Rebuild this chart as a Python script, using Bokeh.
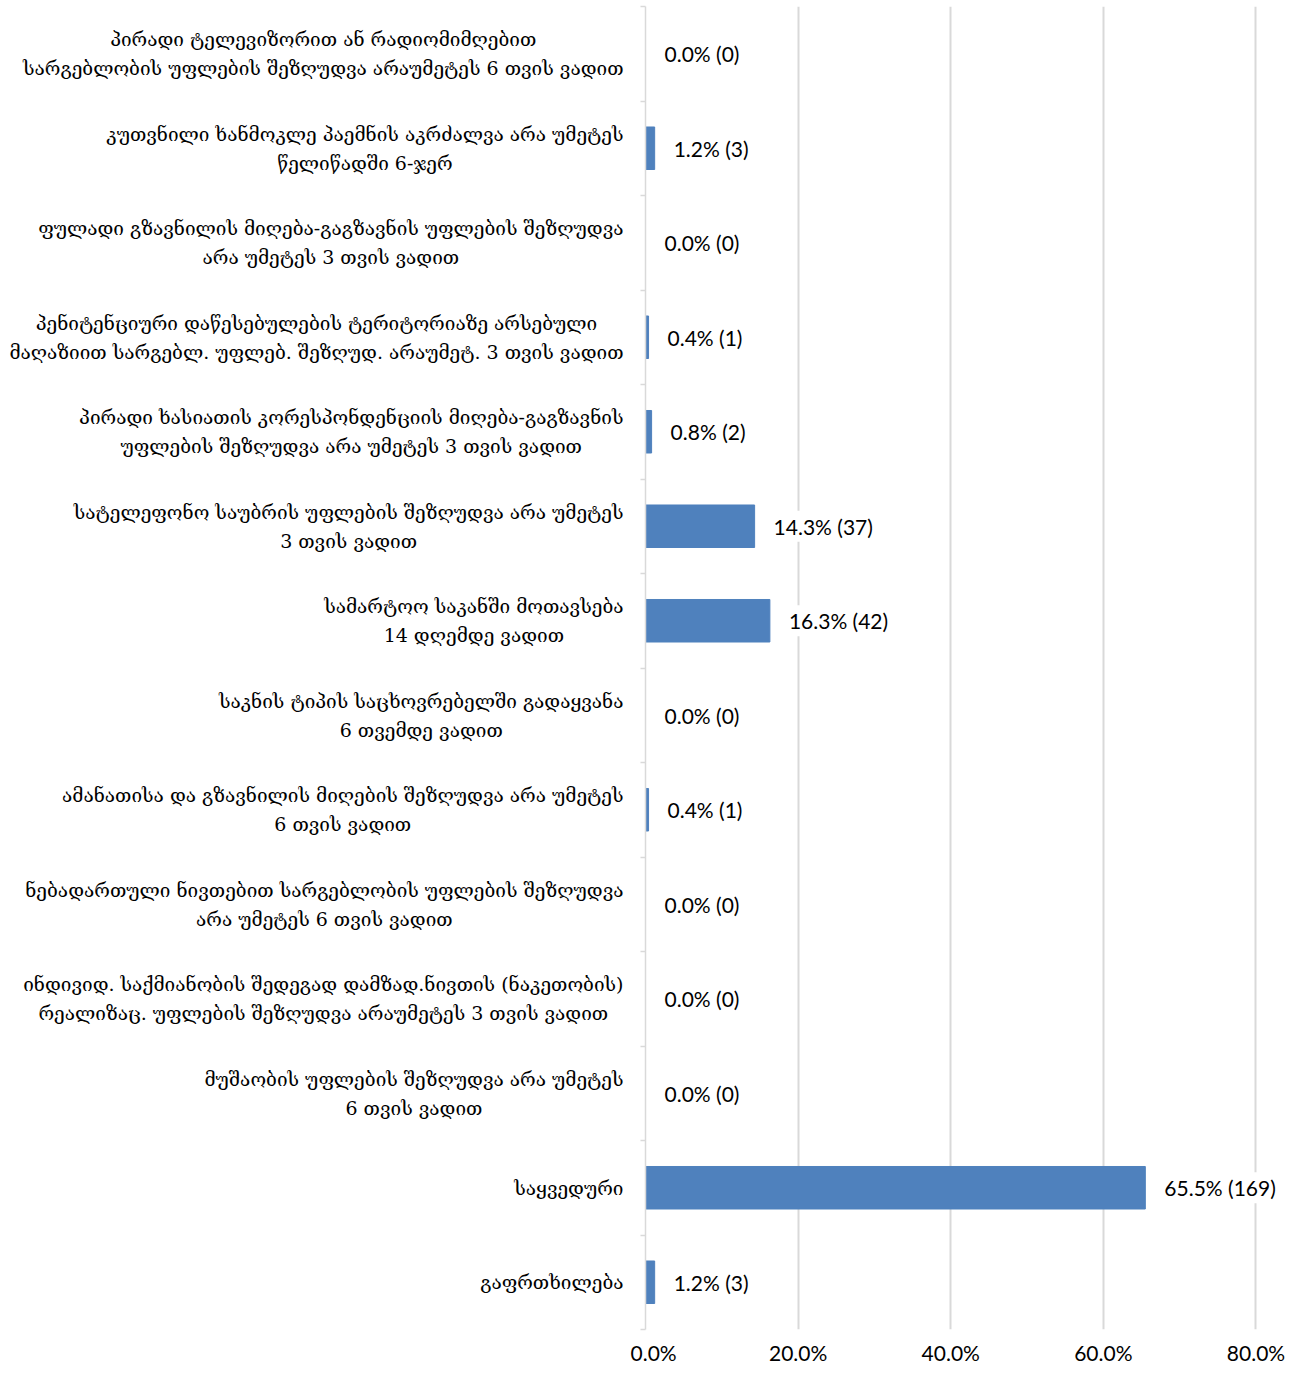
from bokeh.plotting import figure
from bokeh.layouts import row
from bokeh.models import Range1d, FixedTicker, NumeralTickFormatter, ColumnDataSource
from bokeh.core.properties import value
from bokeh.embed import file_html
from bokeh.resources import INLINE

categories = [
    "პირადი ტელევიზორით ან რადიომიმღებით\nსარგებლობის უფლების შეზღუდვა არაუმეტეს 6 თვის ვადით",
    "კუთვნილი ხანმოკლე პაემნის აკრძალვა არა უმეტეს\nწელიწადში 6-ჯერ",
    "ფულადი გზავნილის მიღება-გაგზავნის უფლების შეზღუდვა\nარა უმეტეს 3 თვის ვადით",
    "პენიტენციური დაწესებულების ტერიტორიაზე არსებული\nმაღაზიით სარგებლ. უფლებ. შეზღუდ. არაუმეტ. 3 თვის ვადით",
    "პირადი ხასიათის კორესპონდენციის მიღება-გაგზავნის\nუფლების შეზღუდვა არა უმეტეს 3 თვის ვადით",
    "სატელეფონო საუბრის უფლების შეზღუდვა არა უმეტეს\n3 თვის ვადით",
    "სამარტოო საკანში მოთავსება\n14 დღემდე ვადით",
    "საკნის ტიპის საცხოვრებელში გადაყვანა\n6 თვემდე ვადით",
    "ამანათისა და გზავნილის მიღების შეზღუდვა არა უმეტეს\n6 თვის ვადით",
    "ნებადართული ნივთებით სარგებლობის უფლების შეზღუდვა\nარა უმეტეს 6 თვის ვადით",
    "ინდივიდ. საქმიანობის შედეგად დამზად.ნივთის (ნაკეთობის)\nრეალიზაც. უფლების შეზღუდვა არაუმეტეს 3 თვის ვადით",
    "მუშაობის უფლების შეზღუდვა არა უმეტეს\n6 თვის ვადით",
    "საყვედური",
    "გაფრთხილება",
]
percents = [0.0, 1.2, 0.0, 0.4, 0.8, 14.3, 16.3, 0.0, 0.4, 0.0, 0.0, 0.0, 65.5, 1.2]
counts = [0, 3, 0, 1, 2, 37, 42, 0, 1, 0, 0, 0, 169, 3]
x_ticks = [0.0, 0.2, 0.4, 0.6, 0.8]

n = len(categories)
idx = list(range(n))
src = ColumnDataSource(dict(
    y=idx,
    right=[p / 100 for p in percents],
    label=[f"{p:.1f}% ({c})" for p, c in zip(percents, counts)],
))
cat_src = ColumnDataSource(dict(y=idx, name=categories, x=[1.0] * n))

W = 1287
H = 1367
TOP = 6
BOTTOM = 32
LW = 630
y_range = Range1d(n - 0.5, -0.5)

# ---- left panel: category labels ----
pl = figure(width=LW, height=H, output_backend="svg", toolbar_location=None,
            x_range=Range1d(0, 1), y_range=y_range,
            x_axis_type=None, y_axis_type=None,
            min_border_left=0, min_border_right=0,
            min_border_top=TOP, min_border_bottom=BOTTOM)
pl.outline_line_color = None
pl.grid.visible = False
pl.text(x="x", y="y", text="name", source=cat_src, x_offset=-7,
        text_align="center", anchor="center_right",
        text_font=value("DejaVu Serif"), text_font_size="19px",
        text_line_height=1.32, text_color="#000000")

# ---- main panel: bars ----
p = figure(width=W - LW, height=H, output_backend="svg", toolbar_location=None,
           x_range=Range1d(0, 0.84), y_range=y_range,
           min_border_left=15, min_border_right=1,
           min_border_top=TOP, min_border_bottom=BOTTOM)
p.outline_line_color = None

p.hbar(y="y", left=0, right="right", height=0.45, source=src,
       fill_color="#4F81BD", line_color="#4F81BD")

p.text(x="right", y="y", text="label", source=src, x_offset=16,
       text_align="left", text_baseline="middle",
       text_font=value("Lato"), text_font_size="21px", text_color="#000000",
       background_fill_color="white", padding=3)

p.xaxis.ticker = FixedTicker(ticks=x_ticks)
p.xaxis.formatter = NumeralTickFormatter(format="0.0%")
p.xaxis.axis_line_color = None
p.xaxis.major_tick_line_color = None
p.xaxis.minor_tick_line_color = None
p.xaxis.major_tick_out = 0
p.xaxis.major_label_standoff = 10
p.xaxis.major_label_text_font = "Lato"
p.xaxis.major_label_text_font_size = "21px"
p.xaxis.major_label_text_color = "#000000"

p.xgrid.ticker = FixedTicker(ticks=x_ticks)
p.xgrid.grid_line_color = "#D9D9D9"
p.xgrid.grid_line_width = 2
p.ygrid.grid_line_color = None

p.yaxis.ticker = FixedTicker(ticks=idx, minor_ticks=[i - 0.5 for i in range(n + 1)])
p.yaxis.major_label_overrides = {i: "" for i in idx}
p.yaxis.major_label_standoff = 0
p.yaxis.axis_line_color = "#D9D9D9"
p.yaxis.axis_line_width = 1.5
p.yaxis.major_tick_line_color = None
p.yaxis.major_tick_out = 0
p.yaxis.major_tick_in = 0
p.yaxis.minor_tick_line_color = "#D9D9D9"
p.yaxis.minor_tick_line_width = 1.5
p.yaxis.minor_tick_out = 5
p.yaxis.minor_tick_in = 0

layout = row(pl, p)
open("out.html", "w").write(file_html(layout, INLINE))
